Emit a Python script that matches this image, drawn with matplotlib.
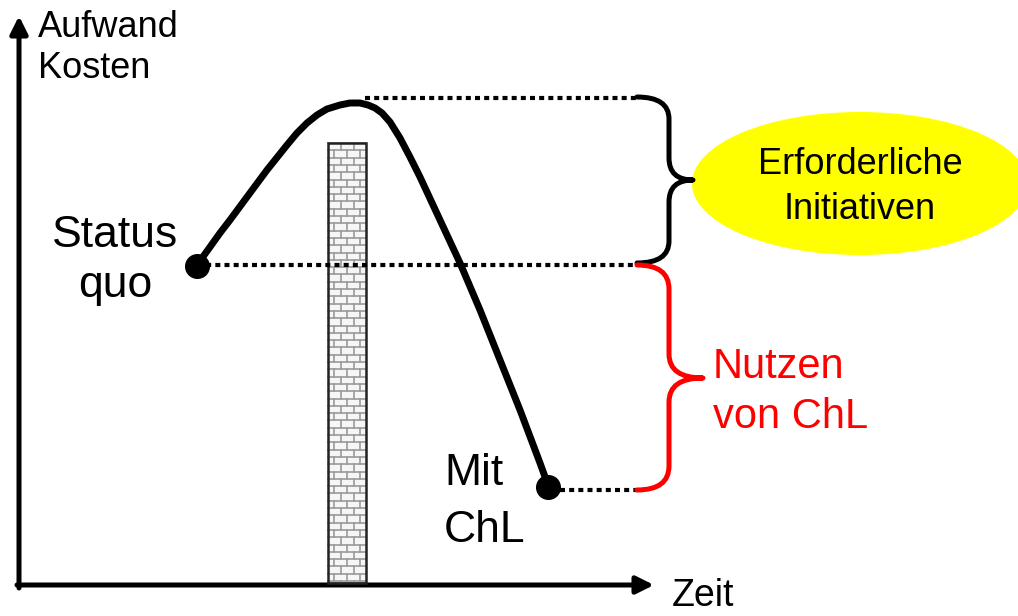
import matplotlib
matplotlib.use("Agg")
import matplotlib.pyplot as plt
from matplotlib.patches import Ellipse, Rectangle, PathPatch
from matplotlib.path import Path

plt.rcParams['font.family'] = ['Liberation Sans', 'DejaVu Sans']

# schematic curve (pixel-like coordinates, y grows downward)
curve_x = [197, 210, 220, 230, 247, 267, 287, 297, 307, 317, 327, 340, 350, 360, 368,
           375, 382, 390, 400, 410, 420, 440, 460, 480, 500, 520, 540, 548]
curve_y = [265, 247, 233, 220, 197, 170, 145, 133, 123, 115, 109, 105, 103, 103, 105,
           108, 113, 122, 138, 157, 177, 220, 263, 310, 360, 410, 463, 485]
start_pt = (197, 266)
end_pt = (548, 487)
level_peak, level_status, level_mit = 98, 265, 490
bar_x0, bar_x1, bar_top, bar_bottom = 328, 366, 143, 583

fig = plt.figure(figsize=(10.18, 6.16), dpi=100)
ax = fig.add_axes([0, 0, 1, 1])
ax.set_xlim(0, 1018)
ax.set_ylim(616, 0)
ax.axis("off")

# axis arrows
arrow = dict(arrowstyle="-|>", lw=3.6, color="k", mutation_scale=26, shrinkA=0, shrinkB=0)
ax.annotate("", xy=(19, 16), xytext=(19, 588), arrowprops=arrow)
ax.annotate("", xy=(654, 585), xytext=(17, 585), arrowprops=arrow)
ax.text(38, 37, "Aufwand", fontsize=26, va="baseline", ha="left")
ax.text(38, 78, "Kosten", fontsize=26, va="baseline", ha="left")
ax.text(672, 606, "Zeit", fontsize=27, va="baseline", ha="left")

# brick bar
ax.add_patch(Rectangle((bar_x0, bar_top), bar_x1 - bar_x0, bar_bottom - bar_top,
                       facecolor="#f6f6f6", edgecolor="none", zorder=2))
row_h = 7.3
y = bar_top
i = 0
while y < bar_bottom:
    ax.plot([bar_x0, bar_x1], [y, y], color="#9a9a9a", lw=1.2, zorder=3)
    xx = bar_x0 + (0 if i % 2 == 0 else 6.5)
    while xx < bar_x1:
        if xx > bar_x0:
            ax.plot([xx, xx], [y, min(y + row_h, bar_bottom)], color="#9a9a9a", lw=1.2, zorder=3)
        xx += 13
    y += row_h
    i += 1
ax.add_patch(Rectangle((bar_x0, bar_top), bar_x1 - bar_x0, bar_bottom - bar_top,
                       facecolor="none", edgecolor="#222222", lw=1.8, zorder=4))

# dotted level lines
dot = dict(color="k", lw=3, linestyle=(0, (1.2, 1)), zorder=5)
ax.plot([365, 637], [level_peak] * 2, **dot)
ax.plot([197, 637], [level_status] * 2, **dot)
ax.plot([560, 637], [level_mit] * 2, **dot)

# curve and points
ax.plot(curve_x, curve_y, color="k", lw=5, solid_capstyle="round", solid_joinstyle="round", zorder=6)
ax.plot(*start_pt, "o", color="k", ms=17, zorder=7)
ax.plot(*end_pt, "o", color="k", ms=17, zorder=7)


def brace(x0, xv, xt, y0, y1, ym, r, color):
    verts = [(x0, y0), (xv, y0), (xv, y0 + r),
             (xv, ym - r),
             (xv, ym), (xt, ym),
             (xv, ym), (xv, ym + r),
             (xv, y1 - r),
             (xv, y1), (x0, y1)]
    codes = [Path.MOVETO, Path.CURVE3, Path.CURVE3,
             Path.LINETO,
             Path.CURVE3, Path.CURVE3,
             Path.CURVE3, Path.CURVE3,
             Path.LINETO,
             Path.CURVE3, Path.CURVE3]
    ax.add_patch(PathPatch(Path(verts, codes), fill=False, edgecolor=color, lw=3.6,
                           capstyle="round", joinstyle="round", zorder=6))


brace(637, 669, 693, 97, 263, 180, 22, "k")
brace(637, 669, 703, 265, 490, 378, 24, "#ff0000")

# ellipse label
ax.add_patch(Ellipse((860, 183.5), 336, 143, facecolor="#ffff00", edgecolor="none", zorder=4))
ax.text(860, 174, "Erforderliche", fontsize=26, ha="center", va="baseline", zorder=8)
ax.text(860, 219, "Initiativen", fontsize=26, ha="center", va="baseline", zorder=8)

ax.text(713, 378, "Nutzen", fontsize=30, color="#ff0000", ha="left", va="baseline")
ax.text(713, 428, "von ChL", fontsize=30, color="#ff0000", ha="left", va="baseline")
ax.text(115, 247, "Status", fontsize=32, ha="center", va="baseline")
ax.text(115, 297, "quo", fontsize=32, ha="center", va="baseline")
ax.text(444, 485, "Mit", fontsize=32, ha="left", va="baseline")
ax.text(444, 542, "ChL", fontsize=32, ha="left", va="baseline")

fig.savefig("out.png", dpi=100)
